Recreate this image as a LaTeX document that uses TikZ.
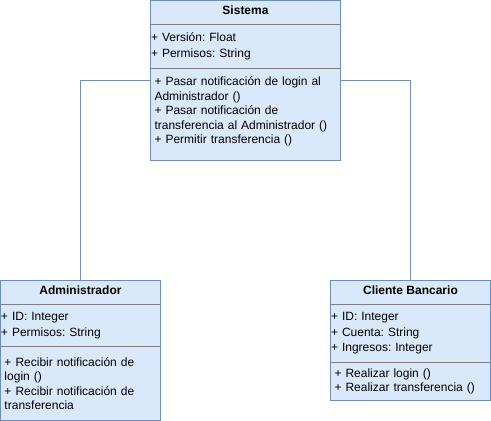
\documentclass[tikz,border=0pt]{standalone}
\usepackage{fontspec}
\setmainfont{Liberation Sans}
\usetikzlibrary{positioning,fit}
\definecolor{umlfill}{HTML}{DAE8FC}
\definecolor{umlline}{HTML}{6C8EBF}
\definecolor{umlsep}{HTML}{808080}
\frenchspacing

\begin{document}
\begin{tikzpicture}[
				x=1pt,y=-1pt,
				font=\fontsize{12}{14.4}\selectfont,
				head/.style={
					rectangle,
					fill=umlfill,
					inner sep=0pt,
					outer sep=0pt,
					minimum height=24pt,
					text depth=4pt,
					font=\fontsize{12}{14.4}\selectfont\bfseries
				},
				attrs/.style={
					rectangle,
					fill=umlfill,
					inner xsep=0.5pt,
					inner ysep=0pt,
					outer sep=0pt,
					align=left,
					font=\fontsize{12}{15.5}\selectfont
				},
				meths/.style={
					rectangle,
					fill=umlfill,
					inner xsep=4pt,
					inner ysep=0pt,
					outer sep=0pt,
					align=left
				},
				classbox/.style={rectangle,draw=umlline,line width=1pt,inner sep=0pt,outer sep=0pt},
				sepline/.style={draw=umlsep,line width=1pt},
				link/.style={draw=umlline,line width=1pt}
				]
				\useasboundingbox (0,0) rectangle (491,421);
				
				\node[head, minimum width=190pt, anchor=north west] (sisHead) at (150.5,0.5) {Sistema};
				\node[attrs, text width=189pt, minimum height=44pt, below=0pt of sisHead] (sisAttr) {+ Versión: Float\\+ Permisos: String};
				\node[meths, text width=182pt, minimum height=92pt, below=0pt of sisAttr] (sisMeth) {+ Pasar notificación de login al\\Administrador ()\\+ Pasar notificación de\\transferencia al Administrador ()\\+ Permitir transferencia ()\rule[-8.5pt]{0pt}{8.5pt}};
				
				\node[head, minimum width=160pt, anchor=north west] (admHead) at (0.5,280.5) {Administrador};
				\node[attrs, text width=159pt, minimum height=42pt, below=0pt of admHead] (admAttr) {+ ID: Integer\\+ Permisos: String};
				\node[meths, text width=152pt, minimum height=74pt, below=0pt of admAttr] (admMeth) {+ Recibir notificación de\\login ()\\+ Recibir notificación de\\transferencia};
				
				\node[head, minimum width=160pt, anchor=north west] (cliHead) at (330.5,280.5) {Cliente Bancario};
				\node[attrs, text width=159pt, minimum height=58pt, below=0pt of cliHead] (cliAttr) {+ ID: Integer\\+ Cuenta: String\\+ Ingresos: Integer};
				\node[meths, text width=152pt, minimum height=38pt, below=0pt of cliAttr] (cliMeth) {+ Realizar login ()\\+ Realizar transferencia ()};
				
				\draw[sepline] (sisAttr.north west) -- (sisAttr.north east);
				\draw[sepline] (sisMeth.north west) -- (sisMeth.north east);
				\draw[sepline] (admAttr.north west) -- (admAttr.north east);
				\draw[sepline] (admMeth.north west) -- (admMeth.north east);
				\draw[sepline] (cliAttr.north west) -- (cliAttr.north east);
				\draw[sepline] (cliMeth.north west) -- (cliMeth.north east);
				
				\node[classbox, fit=(sisHead)(sisMeth)] (sistema) {};
				\node[classbox, fit=(admHead)(admMeth)] (admin) {};
				\node[classbox, fit=(cliHead)(cliMeth)] (cliente) {};
				
				\draw[link] (sistema.west) -| (admin.north);
				\draw[link] (sistema.east) -| (cliente.north);
\end{tikzpicture}
\end{document}
